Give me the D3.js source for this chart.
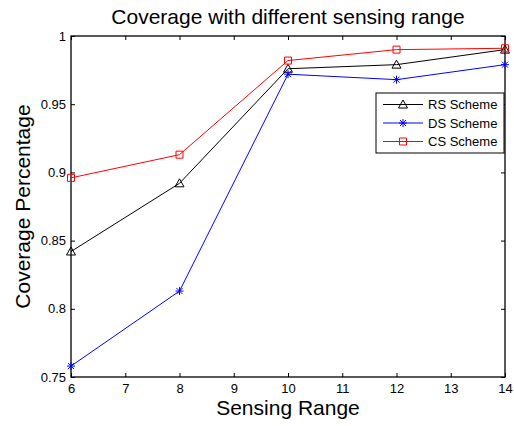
<!DOCTYPE html>
<html>
<head>
<meta charset="utf-8">
<script src="https://cdn.jsdelivr.net/npm/d3@7"></script>
<style>
  body { margin: 0; background: #fff; }
  svg text { font-family: "Liberation Sans", Arial, sans-serif; fill: #000; }
</style>
</head>
<body>
<div id="chart"></div>
<script>
    const sensingRange = [6, 8, 10, 12, 14];
    const rsScheme = [0.842, 0.892, 0.976, 0.979, 0.990];
    const dsScheme = [0.758, 0.813, 0.972, 0.968, 0.979];
    const csScheme = [0.896, 0.913, 0.982, 0.990, 0.991];
    const seriesNames = ["RS Scheme", "DS Scheme", "CS Scheme"];
    const xTicks = [6, 7, 8, 9, 10, 11, 12, 13, 14];
    const yTicks = [0.75, 0.8, 0.85, 0.9, 0.95, 1];
    const yTickLabels = ["0.75", "0.8", "0.85", "0.9", "0.95", "1"];

    const margin = { top: 36, right: 9, bottom: 49, left: 71 };
    const width = 514 - margin.left - margin.right;
    const height = 426 - margin.top - margin.bottom;

    const svg = d3.select("#chart")
        .append("svg")
        .attr("width", 514)
        .attr("height", 426);

    const g = svg.append("g")
        .attr("transform", `translate(${margin.left},${margin.top})`);

    const x = d3.scaleLinear().domain([6, 14]).range([0, width]);
    const y = d3.scaleLinear().domain([0.75, 1]).range([height, 0]);

    // box + inward ticks like matlab
    const tickLen = 4;
    g.append("g")
        .attr("transform", `translate(0,${height})`)
        .call(d3.axisBottom(x).tickValues(xTicks).tickSizeInner(-tickLen).tickSizeOuter(0).tickPadding(7))
        .call(a => a.select(".domain").remove())
        .call(a => a.selectAll("text").attr("font-size", 13).attr("font-family", "Liberation Sans, Arial, sans-serif"));
    g.append("g")
        .call(d3.axisTop(x).tickValues(xTicks).tickSizeInner(-tickLen).tickSizeOuter(0).tickFormat(""))
        .call(a => a.select(".domain").remove());
    g.append("g")
        .call(d3.axisLeft(y).tickValues(yTicks).tickSizeInner(-tickLen).tickSizeOuter(0).tickPadding(5)
            .tickFormat((d, i) => yTickLabels[i]))
        .call(a => a.select(".domain").remove())
        .call(a => a.selectAll("text").attr("font-size", 13).attr("font-family", "Liberation Sans, Arial, sans-serif"));
    g.append("g")
        .attr("transform", `translate(${width},0)`)
        .call(d3.axisRight(y).tickValues(yTicks).tickSizeInner(-tickLen).tickSizeOuter(0).tickFormat(""))
        .call(a => a.select(".domain").remove());

    g.append("rect")
        .attr("width", width)
        .attr("height", height)
        .attr("fill", "none")
        .attr("stroke", "#000")
        .attr("stroke-width", 1.3);

    // marker shapes
    const markers = {
        triangle: (cx, cy) => `M${cx - 4.5},${cy + 3.5}L${cx},${cy - 4.5}L${cx + 4.5},${cy + 3.5}Z`,
        star: (cx, cy) => `M${cx - 4},${cy}L${cx + 4},${cy}M${cx},${cy - 4}L${cx},${cy + 4}` +
            `M${cx - 3},${cy - 3}L${cx + 3},${cy + 3}M${cx - 3},${cy + 3}L${cx + 3},${cy - 3}`,
        square: (cx, cy) => `M${cx - 3.5},${cy - 3.5}h7v7h-7Z`
    };

    const series = [
        { name: seriesNames[0], values: rsScheme, color: "#000000", marker: "triangle" },
        { name: seriesNames[1], values: dsScheme, color: "#0000ff", marker: "star" },
        { name: seriesNames[2], values: csScheme, color: "#ff0000", marker: "square" }
    ];

    const line = d3.line()
        .x((d, i) => x(sensingRange[i]))
        .y(d => y(d));

    series.forEach(s => {
        g.append("path")
            .datum(s.values)
            .attr("fill", "none")
            .attr("stroke", s.color)
            .attr("stroke-width", 1)
            .attr("d", line);
        g.selectAll(null)
            .data(s.values)
            .enter().append("path")
            .attr("d", (d, i) => markers[s.marker](x(sensingRange[i]), y(d)))
            .attr("fill", "none")
            .attr("stroke", s.color)
            .attr("stroke-width", 1);
    });

    // legend
    const lg = g.append("g").attr("transform", `translate(${376 - margin.left},${93 - margin.top})`);
    lg.append("rect")
        .attr("width", 128)
        .attr("height", 60)
        .attr("fill", "#fff")
        .attr("stroke", "#000")
        .attr("stroke-width", 1);
    series.forEach((s, i) => {
        const ly = 11.5 + i * 18.5;
        lg.append("line")
            .attr("x1", 7).attr("x2", 47)
            .attr("y1", ly).attr("y2", ly)
            .attr("stroke", s.color);
        lg.append("path")
            .attr("d", markers[s.marker](27, ly))
            .attr("fill", "none")
            .attr("stroke", s.color);
        lg.append("text")
            .attr("x", 52)
            .attr("y", ly + 4.5)
            .attr("font-size", 13)
            .text(s.name);
    });

    // titles
    svg.append("text")
        .attr("x", margin.left + width / 2)
        .attr("y", 24)
        .attr("text-anchor", "middle")
        .attr("font-size", 21)
        .text("Coverage with different sensing range");

    svg.append("text")
        .attr("x", margin.left + width / 2)
        .attr("y", 415)
        .attr("text-anchor", "middle")
        .attr("font-size", 21)
        .text("Sensing Range");

    svg.append("text")
        .attr("transform", `translate(30,${margin.top + height / 2}) rotate(-90)`)
        .attr("text-anchor", "middle")
        .attr("font-size", 21)
        .text("Coverage Percentage");
</script>
</body>
</html>
